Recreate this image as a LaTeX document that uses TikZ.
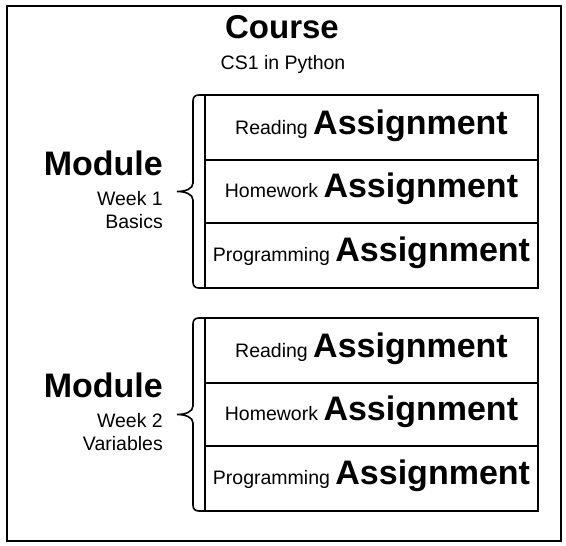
\documentclass[tikz,border=0pt]{standalone}
\usepackage{fontspec}
\setmainfont{Liberation Sans}
\newcommand\bigtxt{\fontsize{34}{38}\selectfont\bfseries}
\newcommand\titletxt{\fontsize{33}{38}\selectfont\bfseries}
\newcommand\smalltxt{\fontsize{19.5}{23}\selectfont}
\begin{document}
\begin{tikzpicture}[x=1pt,y=-1pt,
  rowbox/.style={draw,line width=1.6pt,minimum width=333pt,inner sep=0pt,outer sep=0pt,anchor=north west},
  lbl/.style={anchor=base,inner sep=0pt},
  side/.style={anchor=base east,inner sep=0pt,align=right},
  bracepath/.style={draw,line width=1.6pt}
]
\useasboundingbox (0,0) rectangle (566,546);
\node[draw,line width=2pt,minimum width=554pt,minimum height=535pt,inner sep=0pt,anchor=north west] (frame) at (6,5) {};

\node[lbl] (course) at (282,38) {\titletxt Course};
\node[lbl] (cs1) at (283,69) {\smalltxt CS1 in Python};

% group 1
\node[rowbox,minimum height=65pt] (a1) at (205,95) {};
\node[rowbox,minimum height=63pt] (a2) at (205,160) {};
\node[rowbox,minimum height=65pt] (a3) at (205,223) {};
\node[lbl] (ta1) at ([yshift=-7pt]a1.center) {\smalltxt Reading \bigtxt Assignment};
\node[lbl] (ta2) at ([yshift=-6pt]a2.center) {\smalltxt Homework \bigtxt Assignment};
\node[lbl] (ta3) at ([yshift=-6pt]a3.center) {\smalltxt Programming \bigtxt Assignment};

\node[side] (m1) at (163,175) {\bigtxt Module};
\node[side] (w1) at (163,205) {\smalltxt Week 1};
\node[side] (b1) at (163,228) {\smalltxt Basics};

\coordinate (tip1) at (177,191.5);
\path[bracepath] (a1.north west) -- (199,95) .. controls (195,95) and (193,97) .. (193,101)
  -- (193,183) .. controls (193,189) and (185,191.5) .. (tip1)
  .. controls (185,191.5) and (193,194) .. (193,200)
  -- (193,282) .. controls (193,286) and (195,288) .. (199,288) -- (a3.south west);

% group 2
\node[rowbox,minimum height=65pt] (c1) at (205,318) {};
\node[rowbox,minimum height=63pt] (c2) at (205,383) {};
\node[rowbox,minimum height=65pt] (c3) at (205,446) {};
\node[lbl] (tc1) at ([yshift=-7pt]c1.center) {\smalltxt Reading \bigtxt Assignment};
\node[lbl] (tc2) at ([yshift=-6pt]c2.center) {\smalltxt Homework \bigtxt Assignment};
\node[lbl] (tc3) at ([yshift=-6pt]c3.center) {\smalltxt Programming \bigtxt Assignment};

\node[side] (m2) at (163,397) {\bigtxt Module};
\node[side] (w2) at (163,427) {\smalltxt Week 2};
\node[side] (b2) at (163,450) {\smalltxt Variables};

\coordinate (tip2) at (177,414.5);
\path[bracepath] (c1.north west) -- (199,318) .. controls (195,318) and (193,320) .. (193,324)
  -- (193,406) .. controls (193,412) and (185,414.5) .. (tip2)
  .. controls (185,414.5) and (193,417) .. (193,423)
  -- (193,505) .. controls (193,509) and (195,511) .. (199,511) -- (c3.south west);
\end{tikzpicture}
\end{document}
